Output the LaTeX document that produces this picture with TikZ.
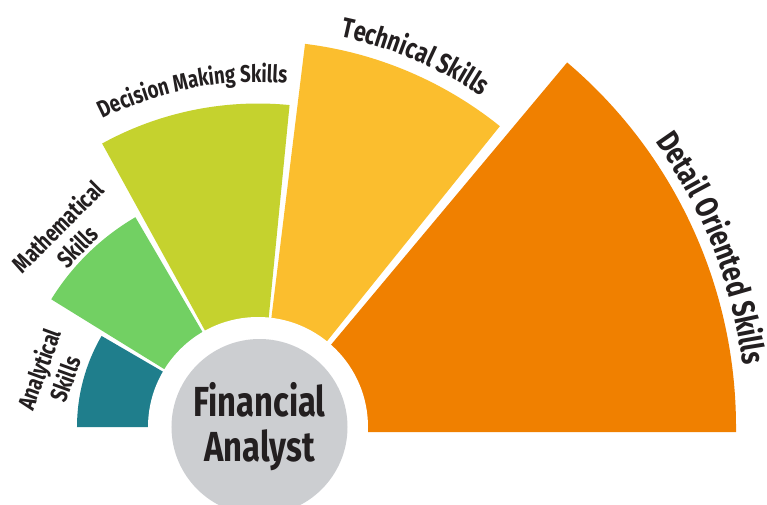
\documentclass[tikz,border=0pt]{standalone}
\usepackage{fontspec}
\newfontfamily\skillfont[FakeStretch=0.78]{Fira Sans}
\usetikzlibrary{decorations.text}

\definecolor{analytical}{HTML}{1F7E8C}
\definecolor{mathematical}{HTML}{72D063}
\definecolor{decision}{HTML}{C5D22E}
\definecolor{technical}{HTML}{FBBE2E}
\definecolor{detail}{HTML}{F08000}
\definecolor{analystgrey}{HTML}{CCCED1}
\definecolor{inkgrey}{HTML}{231F20}

\newcommand{\arcfont}[1]{\skillfont\bfseries\fontsize{#1}{#1}\selectfont}
\newcommand{\skillsector}[4]{\fill[#1] (0,0) -- (#2:#4) arc[start angle=#2, end angle=#3, radius=#4] -- cycle;}

\tikzset{
  skilllabel/.style={text=inkgrey, align=center, inner sep=0pt, font=\skillfont\bfseries\fontsize{24}{28}\selectfont}
}

\begin{document}
\begin{tikzpicture}[x=1pt, y=1pt]
        \path[use as bounding box, fill=white] (-258,-77) rectangle (509,427);

        \fill[detail] (0,-5) -- (478,-5) -- (0:478) arc[start angle=0, end angle=49.7, radius=478] -- cycle;
        \skillsector{technical}{51.2}{83.0}{386}
        \skillsector{decision}{84.4}{118.8}{323.5}
        \skillsector{mathematical}{120.3}{148.3}{243}
        \skillsector{analytical}{149.8}{180}{181}

        \fill[white] (0,0) circle[radius=110];
        \node[circle, fill=analystgrey, minimum size=176pt, inner sep=0pt, align=center,
              text=inkgrey, font=\skillfont\bfseries\fontsize{42}{45}\selectfont] (analyst) at (1.5,0) {Financial\\Analyst};

        \node[skilllabel, rotate=70] (analyticallbl) at (165.6:213) {Analytical\\Skills};
        \node[skilllabel, rotate=45] (mathlbl) at (135:270) {Mathematical\\Skills};

        \path[decorate, decoration={text along path, text align=center, text color=inkgrey,
              text={|\arcfont{24}|Decision Making Skills}}]
              (131:345) arc[start angle=131, end angle=71, radius=345];
        \path[decorate, decoration={text along path, text align=center, text color=inkgrey,
              text={|\arcfont{28}|Technical Skills}}]
              (97:399) arc[start angle=97, end angle=37, radius=399];
        \path[decorate, decoration={text along path, text align=center, text color=inkgrey,
              text={|\arcfont{32}|Detail Oriented Skills}}]
              (51.5:489) arc[start angle=51.5, end angle=-8.5, radius=489];
      \end{tikzpicture}
\end{document}
